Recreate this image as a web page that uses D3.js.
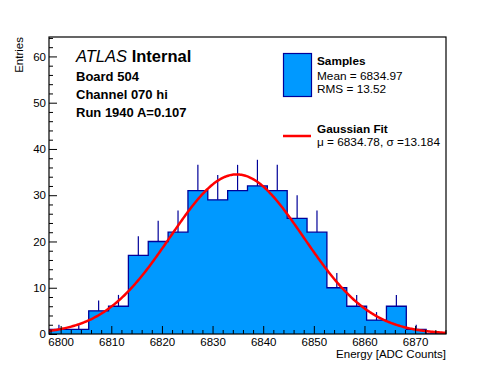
<!DOCTYPE html>
<html>
<head>
<meta charset="utf-8">
<script src="https://cdn.jsdelivr.net/npm/d3@7"></script>
<style>
  html, body { margin: 0; padding: 0; background: #fff; }
  svg { display: block; font-family: 'Liberation Sans', Arial, Helvetica, sans-serif; }
  .axis path { display: none; }
  .axis line { stroke: #000; stroke-width: 1; }
  .axis text { font-size: 11.5px; fill: #000; }
</style>
</head>
<body>
<div id="chart"></div>
<script>
// histogram binning (ADC counts)
const binStart = 6797.7;
const binWidth = 3.92;
const counts = [1, 1, 5, 6, 17, 20, 22, 31, 29, 31, 32, 31, 25, 22, 10, 6, 3, 6, 1, 0];

// gaussian fit parameters
const fitMu = 6834.78;
const fitSigma = 13.184;
const fitAmp = 34.5;

const xDomain = [6797.7, 6876.1];
const yDomain = [0, 64.2];
const xMajor = [6800, 6810, 6820, 6830, 6840, 6850, 6860, 6870];
const yMajor = [0, 10, 20, 30, 40, 50, 60];

const infoLines = ['Board 504', 'Channel 070 hi', 'Run 1940 A=0.107'];
const statLines = ['Mean = 6834.97', 'RMS = 13.52'];
const fitLabel = '\u03bc = 6834.78, \u03c3 =13.184';

const width = 496, height = 372;
const margin = { top: 37, right: 50, bottom: 38, left: 49 };

const svg = d3.select('#chart').append('svg')
  .attr('width', width)
  .attr('height', height);

const x = d3.scaleLinear().domain(xDomain).range([margin.left, width - margin.right]);
const y = d3.scaleLinear().domain(yDomain).range([height - margin.bottom, margin.top]);

svg.append('clipPath').attr('id', 'plot')
  .append('rect')
  .attr('x', x.range()[0]).attr('y', y.range()[1])
  .attr('width', x.range()[1] - x.range()[0])
  .attr('height', y.range()[0] - y.range()[1]);

const bins = counts.map((c, i) => ({
  x0: binStart + i * binWidth,
  x1: binStart + (i + 1) * binWidth,
  n: c
}));

// step outline points
const steps = [];
bins.forEach(b => { steps.push([b.x0, b.n]); steps.push([b.x1, b.n]); });
steps.unshift([bins[0].x0, 0]);
steps.push([bins[bins.length - 1].x1, 0]);

const plot = svg.append('g').attr('clip-path', 'url(#plot)');

plot.append('path')
  .datum(steps)
  .attr('fill', '#0099ff')
  .attr('d', d3.area().x(d => x(d[0])).y0(y(0)).y1(d => y(d[1])));

// upper error bars
plot.selectAll('line.err')
  .data(bins.filter(b => b.n > 0))
  .join('line')
  .attr('class', 'err')
  .attr('x1', d => x((d.x0 + d.x1) / 2))
  .attr('x2', d => x((d.x0 + d.x1) / 2))
  .attr('y1', d => y(d.n))
  .attr('y2', d => y(d.n + Math.sqrt(d.n)))
  .attr('stroke', '#000099')
  .attr('stroke-width', 1.2);

plot.append('path')
  .datum(steps)
  .attr('fill', 'none')
  .attr('stroke', '#000099')
  .attr('stroke-width', 1.3)
  .attr('d', d3.line().x(d => x(d[0])).y(d => y(d[1])));

// fit curve
const gaus = v => fitAmp * Math.exp(-0.5 * Math.pow((v - fitMu) / fitSigma, 2));
const curveX = d3.range(xDomain[0], xDomain[1] + 0.1, 0.2);
plot.append('path')
  .datum(curveX)
  .attr('fill', 'none')
  .attr('stroke', '#ff0000')
  .attr('stroke-width', 2.5)
  .attr('d', d3.line().x(d => x(d)).y(d => y(gaus(d))));

// axes, ticks pointing into the frame
const xMinor = d3.range(6798, 6877, 2).filter(v => v % 10 !== 0);
const yMinor = d3.range(2, 65, 2).filter(v => v % 10 !== 0);

svg.append('g').attr('class', 'axis')
  .attr('transform', `translate(0,${y(0)})`)
  .call(d3.axisBottom(x).tickValues(xMinor).tickFormat('').tickSize(-4));
svg.append('g').attr('class', 'axis')
  .attr('transform', `translate(0,${y(0)})`)
  .call(d3.axisBottom(x).tickValues(xMajor).tickFormat(d3.format('d')).tickSize(-8).tickPadding(4));

svg.append('g').attr('class', 'axis')
  .attr('transform', `translate(${x.range()[0]},0)`)
  .call(d3.axisLeft(y).tickValues(yMinor).tickFormat('').tickSize(-4));
svg.append('g').attr('class', 'axis')
  .attr('transform', `translate(${x.range()[0]},0)`)
  .call(d3.axisLeft(y).tickValues(yMajor).tickFormat(d3.format('d')).tickSize(-8).tickPadding(3));

// frame
svg.append('rect')
  .attr('x', x.range()[0]).attr('y', y.range()[1])
  .attr('width', x.range()[1] - x.range()[0])
  .attr('height', y.range()[0] - y.range()[1])
  .attr('fill', 'none')
  .attr('stroke', '#000')
  .attr('stroke-width', 1.2);

// axis titles
svg.append('text')
  .attr('x', x.range()[1]).attr('y', 358)
  .attr('text-anchor', 'end')
  .attr('font-size', 11.5)
  .text('Energy [ADC Counts]');

svg.append('text')
  .attr('transform', `translate(23,${y.range()[1]}) rotate(-90)`)
  .attr('text-anchor', 'end')
  .attr('font-size', 11.5)
  .text('Entries');

// ATLAS label block
const atlas = svg.append('text').attr('x', 76).attr('y', 62).attr('font-size', 16.5);
atlas.append('tspan').attr('font-style', 'italic').text('ATLAS');
atlas.append('tspan').attr('font-weight', 'bold').text(' Internal');

svg.selectAll('text.info')
  .data(infoLines)
  .join('text')
  .attr('class', 'info')
  .attr('x', 76)
  .attr('y', (d, i) => 81 + i * 18)
  .attr('font-size', 13)
  .attr('font-weight', 'bold')
  .text(d => d);

// legend
const leg = svg.append('g');
leg.append('rect')
  .attr('x', 283.5).attr('y', 53.5).attr('width', 28).attr('height', 43)
  .attr('fill', '#0099ff').attr('stroke', '#000099').attr('stroke-width', 1.2);
leg.append('text').attr('x', 317).attr('y', 65)
  .attr('font-size', 11.8).attr('font-weight', 'bold').text('Samples');
leg.selectAll('text.stat')
  .data(statLines)
  .join('text')
  .attr('class', 'stat')
  .attr('x', 317)
  .attr('y', (d, i) => 80 + i * 13.3)
  .attr('font-size', 11.8)
  .text(d => d);

leg.append('line')
  .attr('x1', 283).attr('x2', 311).attr('y1', 136).attr('y2', 136)
  .attr('stroke', '#ff0000').attr('stroke-width', 2.5);
leg.append('text').attr('x', 317).attr('y', 132.5)
  .attr('font-size', 11.8).attr('font-weight', 'bold').text('Gaussian Fit');
leg.append('text').attr('x', 317).attr('y', 145.5)
  .attr('font-size', 11.8).text(fitLabel);
</script>
</body>
</html>
